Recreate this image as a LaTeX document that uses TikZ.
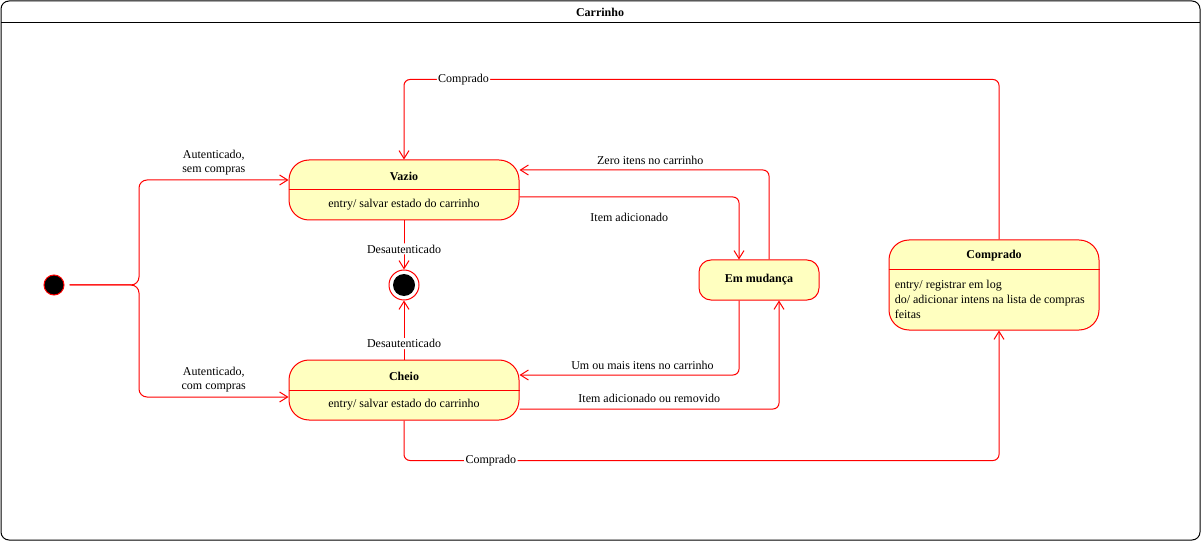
\documentclass[tikz,border=0pt]{standalone}
\usepackage{fontspec}
\setmainfont{Liberation Serif}
\usetikzlibrary{calc,arrows.meta}
\definecolor{edge}{HTML}{FF0000}
\definecolor{statebg}{HTML}{FFFFC0}
\definecolor{ink}{HTML}{000000}
\tikzset{
  moldura/.style={draw=ink, line width=0.75pt},
  estado/.style={draw=edge, fill=statebg, line width=0.75pt, rounded corners=15pt},
  divline/.style={draw=edge, line width=0.75pt},
  trans/.style={draw=edge, line width=0.75pt, rounded corners=4.5pt, -{Straight Barb[length=6pt,width=7.5pt]}},
  initdot/.style={circle, draw=edge, fill=ink, line width=0.75pt, minimum size=15pt, inner sep=0pt},
  endstate/.style={circle, draw=edge, fill=white, line width=0.75pt, minimum size=22.5pt, inner sep=0pt},
  lab/.style={text=ink, font=\fontsize{9}{10.5}\selectfont},
  labb/.style={text=ink, font=\fontsize{9}{10.5}\selectfont\bfseries},
  labfill/.style={lab, fill=white, inner sep=1pt}
}
\begin{document}
\begin{tikzpicture}[x=0.75pt, y=-0.75pt]
  \useasboundingbox (0,0) rectangle (1201,541);
  % moldura
  \draw[moldura, rounded corners=6pt] (1,1) rectangle (1200,540);
  \draw[moldura] (1,23) -- (1200,23);
  \node[labb] (titulo) at (600,12) {Carrinho};

  % estados
  \node[initdot] (ini) at (54,285) {};
  \coordinate (fork) at (139,285);
  \node[estado, minimum width=172.5pt, minimum height=45pt] (vazio) at (404,190) {};
  \node[estado, minimum width=172.5pt, minimum height=45pt] (cheio) at (404,390) {};
  \node[estado, minimum width=90pt, minimum height=30pt, rounded corners=9pt] (mudanca) at (759,280) {};
  \node[estado, minimum width=157.5pt, minimum height=67.5pt] (comprado) at (994,285) {};
  \node[endstate] (fim) at (404,285) {};
  \node[initdot, minimum size=16.5pt, draw=none] (fim-in) at (fim) {};

  \draw[divline] (vazio.west) -- (vazio.east);
  \draw[divline] (cheio.west) -- (cheio.east);
  \draw[divline] ([yshift=11.25pt]comprado.west) -- ([yshift=11.25pt]comprado.east);

  \node[labb] (vazio-nome) at ([yshift=10.5pt]vazio.center) {Vazio};
  \node[lab] (vazio-acao) at ([yshift=-11.25pt]vazio.center) {entry/ salvar estado do carrinho};
  \node[labb] (cheio-nome) at ([yshift=10.5pt]cheio.center) {Cheio};
  \node[lab] (cheio-acao) at ([yshift=-11.25pt]cheio.center) {entry/ salvar estado do carrinho};
  \node[labb] (mudanca-nome) at (mudanca) {Em mudança};
  \node[labb] (comprado-nome) at ([yshift=22pt]comprado.center) {Comprado};
  \node[lab, align=left, anchor=north west, inner sep=0pt, font=\fontsize{9}{11}\selectfont] (comprado-acao)
    at ([xshift=4.5pt,yshift=3.5pt]comprado.west)
    {entry/ registrar em log\\do/ adicionar intens na lista de compras\\feitas};

  % transicoes
  \draw[trans, rounded corners=6pt] ([xshift=3.75pt]ini.east) -- (fork) |- ([yshift=7.5pt]vazio.west)
    node[lab, pos=0.75, above, align=center] {Autenticado,\\sem compras};
  \draw[trans, rounded corners=6pt] ([xshift=3.75pt]ini.east) -- (fork) |- ([yshift=-5.25pt]cheio.west)
    node[lab, pos=0.75, above, align=center] {Autenticado,\\com compras};
  \draw[trans] (vazio.south) -- (fim.north) node[labfill, pos=0.58] {Desautenticado};
  \draw[trans] (cheio.north) -- (fim.south) node[labfill, pos=0.27] {Desautenticado};
  \draw[trans] ([yshift=-5.25pt]vazio.east) -| ([xshift=-15pt]mudanca.north)
    node[lab, pos=0.25, below=8.5pt] {Item adicionado};
  \draw[trans] ([xshift=7.5pt]mudanca.north) |- ([yshift=15pt]vazio.east)
    node[lab, pos=0.738, above] {Zero itens no carrinho};
  \draw[trans] ([xshift=-15pt]mudanca.south) |- ([yshift=11.25pt]cheio.east)
    node[lab, pos=0.72, above] {Um ou mais itens no carrinho};
  \draw[trans] ([yshift=-14.25pt]cheio.east) -| ([xshift=15pt]mudanca.south)
    node[lab, pos=0.25, above=1pt] {Item adicionado ou removido};
  \draw[trans] (cheio.south) -- ++(0,40) -| ([xshift=3.75pt]comprado.south)
    node[labfill, pos=0.073] {Comprado};
  \draw[trans] ([xshift=3.75pt]comprado.north) -- ++(0,-160) -| (vazio.north)
    node[labfill, pos=0.45] {Comprado};
\end{tikzpicture}
\end{document}
